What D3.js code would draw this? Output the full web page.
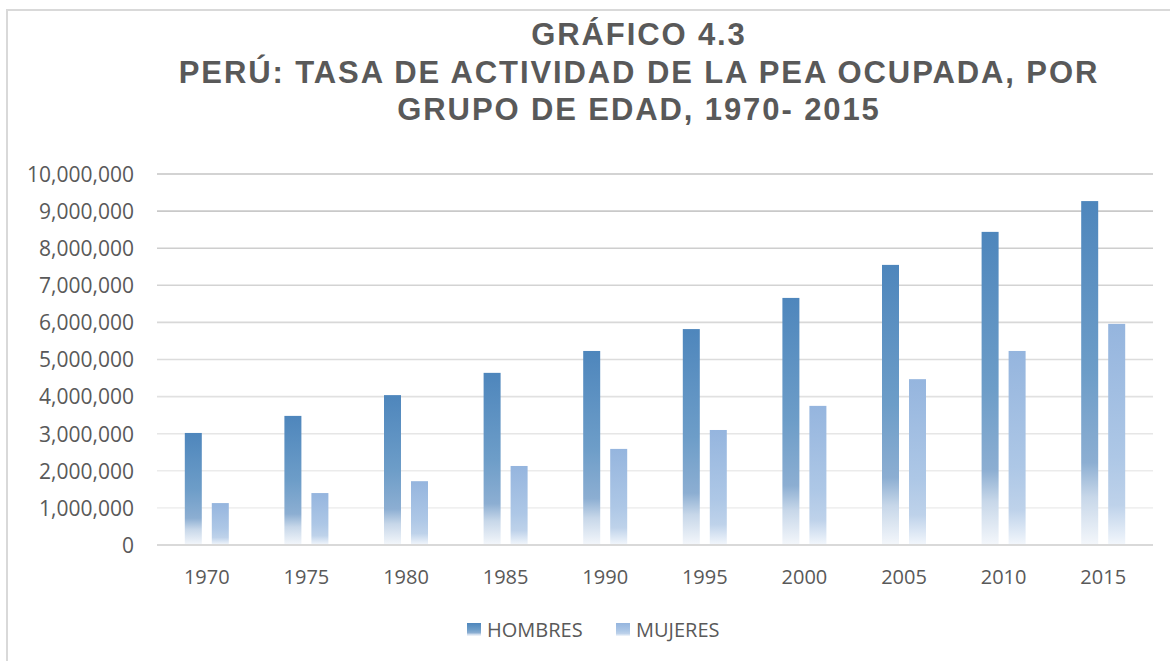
<!DOCTYPE html>
<html>
<head>
<meta charset="utf-8">
<script src="https://cdn.jsdelivr.net/npm/d3@7"></script>
<style>
  html, body { margin: 0; padding: 0; background: #ffffff; }
  svg { display: block; }
</style>
</head>
<body>
<div id="chart"></div>
<script>
const years = ["1970","1975","1980","1985","1990","1995","2000","2005","2010","2015"];
const hombres = [3020000, 3480000, 4040000, 4640000, 5230000, 5820000, 6660000, 7550000, 8440000, 9270000];
const mujeres = [1130000, 1400000, 1720000, 2130000, 2590000, 3100000, 3750000, 4470000, 5230000, 5960000];
const seriesNames = ["HOMBRES", "MUJERES"];
const yTicks = [0,1000000,2000000,3000000,4000000,5000000,6000000,7000000,8000000,9000000,10000000];
const titleLines = ["GRÁFICO 4.3", "PERÚ: TASA DE ACTIVIDAD DE LA PEA OCUPADA, POR", "GRUPO DE EDAD, 1970- 2015"];

const W = 1170, H = 661;
const svg = d3.select("#chart").append("svg").attr("width", W).attr("height", H);

// chart border
svg.append("rect").attr("x", 7).attr("y", 10).attr("width", W + 20).attr("height", H + 20)
  .attr("fill", "#fff").attr("stroke", "#d9d9d9").attr("stroke-width", 2);

const defs = svg.append("defs");
const gH = defs.append("linearGradient").attr("id", "gradH").attr("x1", 0).attr("y1", 0).attr("x2", 0).attr("y2", 1);
[[0, "#4e86bc"], [0.5, "#6d9dc8"], [0.76, "#8caed2"], [0.86, "#c7d7e9"], [1, "#f4f7fb"]]
  .forEach(([o, c]) => gH.append("stop").attr("offset", o).attr("stop-color", c));
const gM = defs.append("linearGradient").attr("id", "gradM").attr("x1", 0).attr("y1", 0).attr("x2", 0).attr("y2", 1);
[[0, "#95b5de"], [0.6, "#adc7e6"], [0.82, "#bed2ea"], [1, "#f3f7fc"]]
  .forEach(([o, c]) => gM.append("stop").attr("offset", o).attr("stop-color", c));

const plotLeft = 157, plotRight = 1153, plotTop = 174, plotBottom = 545;

const y = d3.scaleLinear().domain([0, 10000000]).range([plotBottom, plotTop]);
const x0 = d3.scaleBand().domain(years).range([plotLeft, plotRight]).padding(0);
const x1 = d3.scaleBand().domain(seriesNames).range([0, 44]).paddingInner(10 / 27).paddingOuter(0);

// gridlines
const gridColor = d3.scaleLinear().domain([1000000, 10000000]).range(["#f0f0f0", "#c4c4c4"]);
svg.append("g").selectAll("line").data(yTicks.filter(d => d > 0)).join("line")
  .attr("x1", plotLeft).attr("x2", plotRight)
  .attr("y1", d => y(d)).attr("y2", d => y(d))
  .attr("stroke", d => gridColor(d)).attr("stroke-width", 1.6);

// y axis labels
const yAxis = d3.axisLeft(y).tickValues(yTicks).tickFormat(d3.format(",")).tickSize(0).tickPadding(0);
const yg = svg.append("g").attr("transform", `translate(${plotLeft - 23},0)`).call(yAxis);
yg.select(".domain").remove();
yg.selectAll("text").attr("font-family", "'Open Sans', sans-serif").attr("font-size", 21)
  .attr("fill", "#595959").attr("dy", "0.35em");

// bars
const data = years.map((yr, i) => ({ year: yr, values: [
  { key: "HOMBRES", v: hombres[i] }, { key: "MUJERES", v: mujeres[i] }] }));
const groups = svg.append("g").selectAll("g").data(data).join("g")
  .attr("transform", d => `translate(${x0(d.year) + x0.bandwidth() / 2 - 22},0)`);
groups.selectAll("rect").data(d => d.values).join("rect")
  .attr("x", d => x1(d.key))
  .attr("width", x1.bandwidth())
  .attr("y", d => y(d.v))
  .attr("height", d => y(0) - y(d.v))
  .attr("fill", d => d.key === "HOMBRES" ? "url(#gradH)" : "url(#gradM)");

// x axis line
svg.append("line").attr("x1", plotLeft).attr("x2", plotRight).attr("y1", y(0)).attr("y2", y(0))
  .attr("stroke", "#d9d9d9").attr("stroke-width", 2);

// x axis labels
const xAxis = d3.axisBottom(x0).tickSize(0).tickPadding(0);
const xg = svg.append("g").attr("transform", `translate(0,${plotBottom + 32})`).call(xAxis);
xg.select(".domain").remove();
xg.selectAll("text").attr("font-family", "'Open Sans', sans-serif").attr("font-size", 20)
  .attr("fill", "#595959").attr("dy", "0.35em");

// title
svg.append("g").selectAll("text").data(titleLines).join("text")
  .attr("x", 639).attr("y", (d, i) => 45 + i * 37.5)
  .attr("text-anchor", "middle")
  .attr("font-family", "'Liberation Sans', Arial, sans-serif").attr("font-weight", "bold")
  .attr("font-size", 31).attr("letter-spacing", 1.9)
  .attr("fill", "#595959").text(d => d);

// legend
const legendX = [467, 616];
const lg = svg.append("g").selectAll("g").data(seriesNames).join("g")
  .attr("transform", (d, i) => `translate(${legendX[i]},623)`);
lg.append("rect").attr("width", 14).attr("height", 13)
  .attr("fill", (d, i) => i === 0 ? "url(#gradH)" : "url(#gradM)");
lg.append("text").attr("x", 20).attr("y", 7).attr("dy", "0.35em")
  .attr("font-family", "'Open Sans', sans-serif").attr("font-size", 20)
  .attr("fill", "#595959").text(d => d);
</script>
</body>
</html>
